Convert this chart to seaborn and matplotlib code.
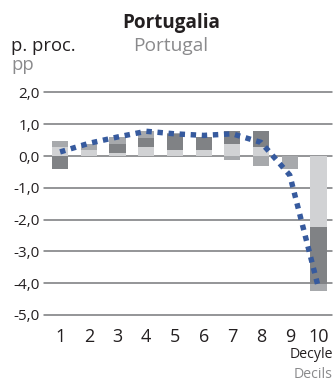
import numpy as np
import pandas as pd
import matplotlib
matplotlib.use("Agg")
import matplotlib.pyplot as plt
import seaborn as sns

# ---- data ----
deciles = ["1", "2", "3", "4", "5", "6", "7", "8", "9", "10"]
comp_light = [0.29, 0.19, 0.10, 0.29, 0.19, 0.19, 0.39, 0.29, 0.00, -2.22]
comp_dark = [-0.42, 0.00, 0.29, 0.29, 0.50, 0.40, 0.41, 0.51, 0.00, -1.82]
comp_medium = [0.19, 0.19, 0.22, 0.21, 0.03, 0.02, -0.11, -0.31, -0.42, -0.19]
total = [0.13, 0.40, 0.60, 0.78, 0.70, 0.65, 0.70, 0.43, -0.60, -4.15]
yticks = [2.0, 1.0, 0.0, -1.0, -2.0, -3.0, -4.0, -5.0]

C_LIGHT = "#d1d2d4"
C_MED = "#a7a9ac"
C_DARK = "#808285"
C_LINE = "#365a9e"
C_TXT = "#231f20"
C_GREY = "#8a8a8c"

sns.set_theme(style="white")
plt.rcParams["font.family"] = ["Open Sans", "DejaVu Sans"]

W, H = 334, 381
fig = plt.figure(figsize=(W / 100, H / 100), dpi=100)
ax = fig.add_axes([44 / W, 1 - 315 / H, (332 - 44) / W, (315 - 92.5) / H])

light = np.array(comp_light)
dark = np.array(comp_dark)
med = np.array(comp_medium)

p1 = np.clip(light, 0, None)
p2 = p1 + np.clip(dark, 0, None)
p3 = p2 + np.clip(med, 0, None)
n1 = np.clip(light, None, 0)
n2 = n1 + np.clip(dark, None, 0)
n3 = n2 + np.clip(med, None, 0)

df = pd.DataFrame({"decile": deciles, "p1": p1, "p2": p2, "p3": p3,
                   "n1": n1, "n2": n2, "n3": n3})

bw = 0.56
for col, c in [("p3", C_MED), ("p2", C_DARK), ("p1", C_LIGHT),
               ("n3", C_MED), ("n2", C_DARK), ("n1", C_LIGHT)]:
    sns.barplot(data=df, x="decile", y=col, order=deciles, color=c,
                width=bw, saturation=1, linewidth=0, ax=ax, zorder=2)

line_df = pd.DataFrame({"pos": np.arange(len(deciles)), "total": total})
sns.lineplot(data=line_df, x="pos", y="total", ax=ax, color=C_LINE,
             linewidth=3.9, zorder=3, sort=False)
ln = ax.lines[-1]
ln.set_dashes((1, 1.05))
ln.set_dash_capstyle("butt")

ax.set_xlim(-0.56, 9.47)
ax.set_ylim(-5.0, 2.0)
ax.set_yticks(yticks)
ax.set_yticklabels([f"{v:.1f}".replace(".", ",") for v in yticks],
                   fontsize=11, color=C_TXT)
ax.set_xticks(range(len(deciles)))
ax.set_xticklabels(deciles, fontsize=13, color=C_TXT)
ax.tick_params(axis="both", length=0)
ax.tick_params(axis="y", pad=3)
ax.tick_params(axis="x", pad=9)
ax.yaxis.grid(True, color="#77787b", linewidth=1.1, zorder=0)
ax.set_axisbelow(True)
for gl in ax.get_ygridlines():
    gl.set_clip_on(False)
for s in ax.spines.values():
    s.set_visible(False)
ax.set_xlabel("")
ax.set_ylabel("")


def ftext(x, y, s, **kw):
    fig.text(x / W, 1 - y / H, s, **kw)


ftext(171.5, 23, "Portugalia", ha="center", va="center", fontsize=13.6,
      fontweight="bold", color=C_TXT)
ftext(171, 46, "Portugal", ha="center", va="center", fontsize=13.8, color=C_GREY)
ftext(11, 46, "p. proc.", ha="left", va="center", fontsize=13.2, color=C_TXT)
ftext(11, 65, "pp", ha="left", va="center", fontsize=13.2, color=C_GREY)
ftext(333, 355, "Decyle", ha="right", va="center", fontsize=10.2, color=C_TXT)
ftext(333, 374, "Decils", ha="right", va="center", fontsize=10.2, color=C_GREY)

fig.savefig("out.png", dpi=100)
